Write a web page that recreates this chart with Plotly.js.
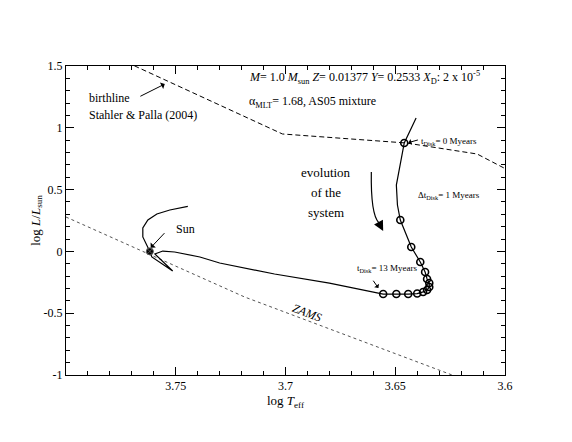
<!DOCTYPE html>
<html><head><meta charset="utf-8">
<script src="https://cdn.plot.ly/plotly-3.0.1.min.js"></script>
<style>html,body{margin:0;padding:0;background:#fff}</style>
</head><body>
<div id="chart" style="width:572px;height:442px"></div>
<script>
// Birthline (Stahler & Palla 2004)
const birthX = [3.7755, 3.7686, 3.7014, 3.645, 3.6127, 3.6005, 3.59];
const birthY = [1.556, 1.5, 0.950, 0.877, 0.788, 0.675, 0.586];
// ZAMS
const zamsX = [3.805, 3.80, 3.7186, 3.6241, 3.62];
const zamsY = [0.318, 0.278, -0.369, -1.0, -1.02];
// Evolutionary track
const trackX = [3.6405, 3.6459, 3.6495, 3.6490, 3.6477, 3.6427, 3.6386, 3.6364, 3.6355, 3.6345, 3.6345, 3.6355, 3.6373, 3.6400, 3.6441, 3.6495, 3.6555, 3.680, 3.705, 3.730, 3.739, 3.7505, 3.7559, 3.7595, 3.7514, 3.7609, 3.7618, 3.7650, 3.7650, 3.7627, 3.7586, 3.7527, 3.7468, 3.7445];
const trackY = [1.079, 0.877, 0.537, 0.375, 0.254, 0.036, -0.086, -0.167, -0.223, -0.256, -0.288, -0.312, -0.328, -0.341, -0.345, -0.345, -0.345, -0.256, -0.183, -0.094, -0.045, -0.005, 0.003, -0.021, -0.159, -0.045, 0.0, 0.117, 0.189, 0.254, 0.303, 0.335, 0.359, 0.365];
// Disk-locking epochs, every 1 Myr from 0 to 13 Myr
const diskT = [0,1,2,3,4,5,6,7,8,9,10,11,12,13];
const diskX = [3.6459, 3.6477, 3.6427, 3.6386, 3.6364, 3.6355, 3.6345, 3.6345, 3.6355, 3.6373, 3.6400, 3.6441, 3.6495, 3.6555];
const diskY = [0.877, 0.254, 0.036, -0.086, -0.167, -0.223, -0.256, -0.288, -0.312, -0.328, -0.341, -0.345, -0.345, -0.345];
// Sun
const sunX = [3.7618];
const sunY = [0.0];
// Ticks
const xRange = [3.8, 3.6];
const yRange = [-1, 1.5];
const xTicks = [3.75, 3.7, 3.65, 3.6];
const xTickText = ['3.75', '3.7', '3.65', '3.6'];
const yTicks = [-1, -0.5, 0, 0.5, 1, 1.5];
const yTickText = ['-1', '-0.5', '0', '0.5', '1', '1.5'];

const FONT = 'Liberation Serif';

const traces = [
  {x: birthX, y: birthY, mode: 'lines', line: {color: '#000', width: 1, dash: '5px,3px'}, hoverinfo: 'skip'},
  {x: zamsX, y: zamsY, mode: 'lines', line: {color: '#555', width: 1, dash: 'dot'}, hoverinfo: 'skip'},
  {x: trackX, y: trackY, mode: 'lines', line: {color: '#000', width: 1.2}, hoverinfo: 'skip'},
  {x: diskX, y: diskY, text: diskT, mode: 'markers', marker: {symbol: 'circle-open', size: 7, color: '#000', line: {width: 1.6, color: '#000'}}},
  {x: sunX, y: sunY, mode: 'markers', marker: {symbol: 'circle-x', size: 7, color: '#000', line: {width: 1, color: '#555'}}}
];

function arrow(hx, hy, tx, ty, head, size) {
  return {x: hx, y: hy, ax: tx, ay: ty, xref: 'x', yref: 'y', axref: 'x', ayref: 'y',
    text: '', showarrow: true, arrowhead: head, arrowsize: size, arrowwidth: 1, arrowcolor: '#000', standoff: 0, startstandoff: 0};
}
function label(x, y, text, size, anchor, extra) {
  return Object.assign({x: x, y: y, xref: 'x', yref: 'y', text: text, showarrow: false,
    xanchor: anchor || 'left', yanchor: 'middle', font: {family: FONT, size: size, color: '#000'}}, extra || {});
}

const annotations = [
  label(3.7177, 1.403, '<i>M</i>= 1.0 <i>M</i><sub>sun</sub> <i>Z</i>= 0.01377 <i>Y</i>= 0.2533 <i>X</i><sub>D</sub>: 2 x 10<sup>-5</sup>', 12),
  label(3.7177, 1.209, 'α<sub>MLT</sub>= 1.68, AS05 mixture', 12),
  label(3.7905, 1.241, 'birthline', 12),
  label(3.7905, 1.104, 'Stahler &amp; Palla (2004)', 12),
  arrow(3.7550, 1.354, 3.7668, 1.249, 1, 1.2),
  label(3.7455, 0.181, 'Sun', 12, 'center'),
  arrow(3.7614, 0.030, 3.7545, 0.160, 1, 1.2),
  label(3.6391, 0.893, 't<sub>Disk</sub>= 0 Myears', 9),
  arrow(3.6440, 0.880, 3.6390, 0.905, 1, 1.0),
  label(3.6405, 0.456, 'Δt<sub>Disk</sub>= 1 Myears', 9),
  label(3.6682, -0.142, 't<sub>Disk</sub>= 13 Myears', 9),
  arrow(3.6577, -0.296, 3.6605, -0.225, 1, 1.0),
  label(3.6814, 0.642, 'evolution', 13, 'center'),
  label(3.6814, 0.473, 'of the', 13, 'center'),
  label(3.6814, 0.311, 'system', 13, 'center'),
  arrow(3.6555, 0.165, 3.6575, 0.232, 2, 2),
  label(3.690, -0.498, '<i>ZAMS</i>', 12, 'center', {textangle: 21})
];

const shapes = [
  {type: 'path', xref: 'x', yref: 'y', path: 'M 3.6609,0.642 Q 3.6612,0.300 3.6575,0.232', line: {color: '#000', width: 1.2}}
];

const baseAxis = {
  showgrid: false, zeroline: false, showline: true, linecolor: '#000', linewidth: 1, mirror: 'allticks',
  ticks: 'inside', ticklen: 8, tickwidth: 1, tickcolor: '#000',
  tickfont: {family: FONT, size: 12, color: '#000'}
};

const layout = {
  width: 572, height: 442,
  margin: {l: 66, r: 67, t: 66, b: 67},
  paper_bgcolor: '#fff', plot_bgcolor: '#fff',
  showlegend: false,
  font: {family: FONT, color: '#000'},
  xaxis: Object.assign({}, baseAxis, {
    range: xRange, tickmode: 'array', tickvals: xTicks, ticktext: xTickText,
    minor: {dtick: 0.01, tick0: 3.6, ticks: 'inside', ticklen: 4, tickcolor: '#000', tickwidth: 1},
    title: {text: 'log <i>T</i><sub>eff</sub>', font: {family: FONT, size: 13, color: '#000'}, standoff: 2}
  }),
  yaxis: Object.assign({}, baseAxis, {
    range: yRange, tickmode: 'array', tickvals: yTicks, ticktext: yTickText,
    minor: {dtick: 0.1, tick0: 0, ticks: 'inside', ticklen: 4, tickcolor: '#000', tickwidth: 1},
    title: {text: 'log <i>L</i>/<i>L</i><sub>sun</sub>', font: {family: FONT, size: 13, color: '#000'}, standoff: 0}
  }),
  annotations: annotations,
  shapes: shapes
};

Plotly.newPlot('chart', traces, layout, {displayModeBar: false, staticPlot: true});
</script>
</body></html>
